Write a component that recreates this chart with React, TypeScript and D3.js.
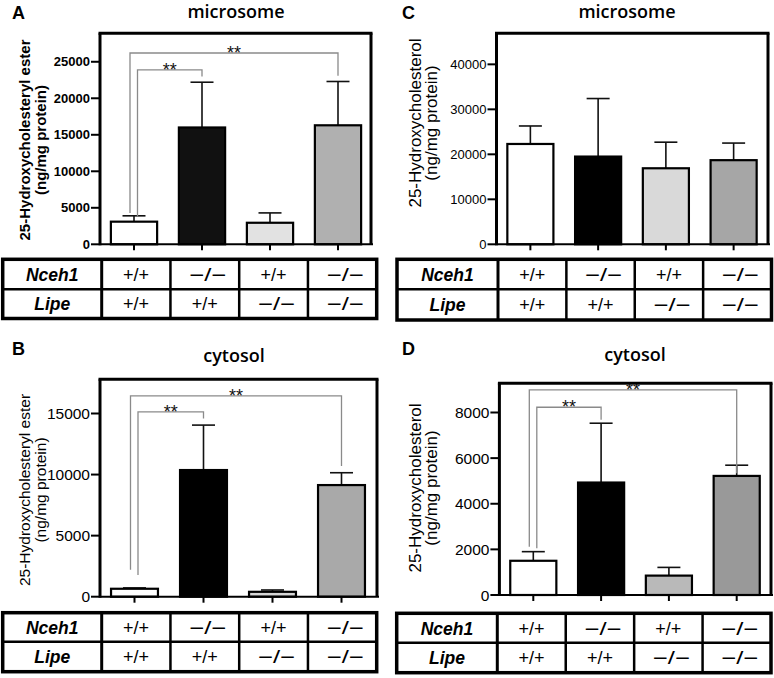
import React from "react";
import * as d3 from "d3";

// ---------- data ----------
const categories = ["Nceh1+/+ Lipe+/+", "Nceh1−/− Lipe+/+", "Nceh1+/+ Lipe−/−", "Nceh1−/− Lipe−/−"];

const microsomeEsterMean = [3100, 16000, 2950, 16300];
const microsomeEsterSD = [800, 6200, 1350, 6000];
const cytosolEsterMean = [650, 10370, 400, 9140];
const cytosolEsterSD = [70, 3680, 150, 1010];
const microsomeSterolMean = [22300, 19500, 16900, 18700];
const microsomeSterolSD = [4000, 12900, 5800, 3800];
const cytosolSterolMean = [1500, 4930, 850, 5220];
const cytosolSterolSD = [400, 2600, 360, 470];

const ticksA = [0, 5000, 10000, 15000, 20000, 25000];
const ticksB = [0, 5000, 10000, 15000];
const ticksC = [0, 10000, 20000, 30000, 40000];
const ticksD = [0, 2000, 4000, 6000, 8000];

// significance brackets: from/to category index, level, leg ends (data units)
const bracketsA = [
  { from: 0, to: 1, level: 23900, fromEnd: 3800, toEnd: 23000, label: "**" },
  { from: 0, to: 3, level: 26200, fromEnd: 4300, toEnd: 23100, label: "**" },
];
const bracketsB = [
  { from: 0, to: 1, level: 15140, fromEnd: 1780, toEnd: 14600, label: "**" },
  { from: 0, to: 3, level: 16450, fromEnd: 2200, toEnd: 10700, label: "**" },
];
const bracketsD = [
  { from: 0, to: 1, level: 8230, fromEnd: 2050, toEnd: 7680, label: "**" },
  { from: 0, to: 3, level: 8990, fromEnd: 2120, toEnd: 5340, label: "**" },
];

const tableRowLabels = ["Nceh1", "Lipe"];
const nceh1Genotypes = ["+/+", "−/−", "+/+", "−/−"];
const lipeGenotypes = ["+/+", "+/+", "−/−", "−/−"];

// ---------- panels ----------
type Bracket = { from: number; to: number; level: number; fromEnd: number; toEnd: number; label: string };

type PanelCfg = {
  letter: string;
  title: string;
  yLabel1: string;
  yLabel2: string;
  mean: number[];
  sd: number[];
  ticks: number[];
  yMax: number;
  brackets: Bracket[];
  colors: string[];
  x0: number;
  x1: number;
  boxRight: number;
  yBottom: number;
  yTop: number;
  letterX: number;
  letterY: number;
  titleX: number;
  titleY: number;
  labelX1: number;
  labelX2: number;
  labelY: number;
  labelSize: number;
  labelWeight: number;
  tickSize: number;
  tickWeight: number;
  table: { left: number; split: number; right: number; top: number; mid: number; bottom: number };
};

const FONT = "Liberation Sans, Arial, Helvetica, sans-serif";

const panels: PanelCfg[] = [
  {
    letter: "A", title: "microsome",
    yLabel1: "25-Hydroxycholesteryl ester", yLabel2: "(ng/mg protein)",
    mean: microsomeEsterMean, sd: microsomeEsterSD, ticks: ticksA, yMax: 28900,
    brackets: bracketsA, colors: ["#ffffff", "#111111", "#e2e2e2", "#b0b0b0"],
    x0: 100, x1: 372, boxRight: 371, yBottom: 244.3, yTop: 33.3,
    letterX: 12, letterY: 19, titleX: 236, titleY: 17.5,
    labelX1: 30, labelX2: 46, labelY: 140, labelSize: 15, labelWeight: 700,
    tickSize: 13, tickWeight: 700,
    table: { left: 2.7, split: 101.7, right: 376.7, top: 259.3, mid: 289.3, bottom: 318.5 },
  },
  {
    letter: "C", title: "microsome",
    yLabel1: "25-Hydroxycholesterol", yLabel2: "(ng/mg protein)",
    mean: microsomeSterolMean, sd: microsomeSterolSD, ticks: ticksC, yMax: 46900,
    brackets: [], colors: ["#ffffff", "#000000", "#d9d9d9", "#a6a6a6"],
    x0: 496.5, x1: 767.5, boxRight: 768, yBottom: 244.3, yTop: 33.3,
    letterX: 402, letterY: 19, titleX: 627, titleY: 17.5,
    labelX1: 421, labelX2: 437, labelY: 123, labelSize: 17, labelWeight: 400,
    tickSize: 13, tickWeight: 400,
    table: { left: 397, split: 498, right: 771.5, top: 259.3, mid: 289.3, bottom: 320 },
  },
  {
    letter: "B", title: "cytosol",
    yLabel1: "25-Hydroxycholesteryl ester", yLabel2: "(ng/mg protein)",
    mean: cytosolEsterMean, sd: cytosolEsterSD, ticks: ticksB, yMax: 17800,
    brackets: bracketsB, colors: ["#ffffff", "#000000", "#d6d6d6", "#a9a9a9"],
    x0: 100, x1: 376, boxRight: 377, yBottom: 596.7, yTop: 379.3,
    letterX: 12, letterY: 355, titleX: 234, titleY: 361.5,
    labelX1: 30, labelX2: 46, labelY: 490, labelSize: 15.5, labelWeight: 400,
    tickSize: 15.5, tickWeight: 400,
    table: { left: 2.7, split: 101.7, right: 376.7, top: 612.7, mid: 641.7, bottom: 671.7 },
  },
  {
    letter: "D", title: "cytosol",
    yLabel1: "25-Hydroxycholesterol", yLabel2: "(ng/mg protein)",
    mean: cytosolSterolMean, sd: cytosolSterolSD, ticks: ticksD, yMax: 9280,
    brackets: bracketsD, colors: ["#ffffff", "#000000", "#b9b9b9", "#999999"],
    x0: 499.4, x1: 770.6, boxRight: 771, yBottom: 595, yTop: 383.3,
    letterX: 402, letterY: 355, titleX: 635, titleY: 361,
    labelX1: 421, labelX2: 437, labelY: 488, labelSize: 17, labelWeight: 400,
    tickSize: 15.5, tickWeight: 400,
    table: { left: 396.7, split: 497.3, right: 771, top: 613.3, mid: 642.7, bottom: 672.7 },
  },
];

function GenotypeTable({ t }: { t: PanelCfg["table"] }) {
  const cols = d3.scaleBand<number>().domain([0, 1, 2, 3]).range([t.split, t.right]);
  const rows = [
    { y0: t.top, y1: t.mid, label: tableRowLabels[0], vals: nceh1Genotypes },
    { y0: t.mid, y1: t.bottom, label: tableRowLabels[1], vals: lipeGenotypes },
  ];
  return (
    <g>
      <rect x={t.left} y={t.top} width={t.right - t.left} height={t.bottom - t.top} fill="#fff" stroke="#000" strokeWidth={3.5} />
      <line x1={t.left} x2={t.right} y1={t.mid} y2={t.mid} stroke="#000" strokeWidth={2.5} />
      {[t.split, ...[1, 2, 3].map((i) => cols(i) as number)].map((x, i) => (
        <line key={i} x1={x} x2={x} y1={t.top} y2={t.bottom} stroke="#000" strokeWidth={i === 0 ? 3 : 2.5} />
      ))}
      {rows.map((r, ri) => {
        const cy = (r.y0 + r.y1) / 2 + 6.5;
        return (
          <g key={ri}>
            <text x={(t.left + t.split) / 2} y={cy} textAnchor="middle" fontFamily={FONT} fontWeight={700} fontStyle="italic" fontSize={17.5}>
              {r.label}
            </text>
            {r.vals.map((v, i) => {
              const cx = (cols(i) as number) + cols.bandwidth() / 2;
              const minus = v.includes("−");
              return (
                <text key={i} x={cx + (minus ? 3 : 0)} y={cy} textAnchor="middle" fontFamily={FONT} fontSize={18}
                  {...(minus ? { textLength: 37, lengthAdjust: "spacingAndGlyphs" } : { textLength: 26, lengthAdjust: "spacing" })}>
                  {v}
                </text>
              );
            })}
          </g>
        );
      })}
    </g>
  );
}

function Panel({ p }: { p: PanelCfg }) {
  const x = d3.scaleBand<string>().domain(categories).range([p.x0, p.x1]).paddingInner(0.32).paddingOuter(0.16);
  const y = d3.scaleLinear().domain([0, p.yMax]).range([p.yBottom, p.yTop]);
  const bw = x.bandwidth();
  const cx = (i: number) => (x(categories[i]) as number) + bw / 2;
  const capW = 23;
  return (
    <g>
      <text x={p.letterX} y={p.letterY} fontFamily={FONT} fontWeight={700} fontSize={18}>{p.letter}</text>
      <text x={p.titleX} y={p.titleY} textAnchor="middle" fontFamily="Open Sans, sans-serif" fontWeight={600} fontSize={18}>
        {p.title}
      </text>
      {/* y label */}
      <text transform={`translate(${p.labelX1},${p.labelY}) rotate(-90)`} textAnchor="middle" fontFamily={FONT}
        fontWeight={p.labelWeight} fontSize={p.labelSize}>{p.yLabel1}</text>
      <text transform={`translate(${p.labelX2},${p.labelY}) rotate(-90)`} textAnchor="middle" fontFamily={FONT}
        fontWeight={p.labelWeight} fontSize={p.labelSize}>{p.yLabel2}</text>

      {/* bars */}
      {p.mean.map((m, i) => (
        <g key={i}>
          <line x1={cx(i)} x2={cx(i)} y1={y(m)} y2={y(m + p.sd[i])} stroke="#111" strokeWidth={1.6} />
          <line x1={cx(i) - capW / 2} x2={cx(i) + capW / 2} y1={y(m + p.sd[i])} y2={y(m + p.sd[i])} stroke="#111" strokeWidth={1.6} />
          <rect x={x(categories[i]) as number} y={y(m)} width={bw} height={y(0) - y(m)} fill={p.colors[i]} stroke="#000" strokeWidth={2.2} />
        </g>
      ))}

      {/* brackets */}
      {p.brackets.map((b, i) => {
        const xl = cx(b.from) + (b.to === 3 ? -4 : 3.5);
        const xr = cx(b.to);
        const yl = y(b.level);
        return (
          <g key={i}>
            <path d={`M${xl},${y(b.fromEnd)}V${yl}H${xr}V${y(b.toEnd)}`} fill="none" stroke="#8a8a8a" strokeWidth={1.3} />
            <text x={(xl + xr) / 2} y={yl + 6} textAnchor="middle" fontFamily={FONT} fontSize={18} fill="#111">{b.label}</text>
          </g>
        );
      })}

      {/* frame */}
      <line x1={p.x0 - 1.5} x2={p.boxRight + 1.5} y1={p.yTop} y2={p.yTop} stroke="#000" strokeWidth={3} />
      <line x1={p.boxRight} x2={p.boxRight} y1={p.yTop} y2={p.yBottom} stroke="#000" strokeWidth={3} />
      <line x1={p.x0} x2={p.x0} y1={p.yTop} y2={p.yBottom + 1} stroke="#000" strokeWidth={3} />
      <line x1={p.x0} x2={p.boxRight + 2} y1={p.yBottom} y2={p.yBottom} stroke="#000" strokeWidth={2} />

      {/* y ticks */}
      {p.ticks.map((t) => (
        <g key={t}>
          <line x1={p.x0 - 9} x2={p.x0} y1={y(t)} y2={y(t)} stroke="#000" strokeWidth={2} />
          <text x={p.x0 - 10} y={y(t)} dy="0.36em" textAnchor="end" fontFamily={FONT}
            fontWeight={p.tickWeight} fontSize={p.tickSize}>{t}</text>
        </g>
      ))}
      {/* x ticks */}
      {categories.map((c, i) => (
        <line key={c} x1={cx(i)} x2={cx(i)} y1={p.yBottom} y2={p.yBottom + 6} stroke="#000" strokeWidth={2} />
      ))}

      <GenotypeTable t={p.table} />
    </g>
  );
}

export default function App() {
  return (
    <svg width={774} height={678} style={{ position: "absolute", left: 0, top: 0, background: "#fff" }}>
      <rect width={774} height={678} fill="#fff" />
      {panels.map((p) => (
        <Panel key={p.letter} p={p} />
      ))}
    </svg>
  );
}
